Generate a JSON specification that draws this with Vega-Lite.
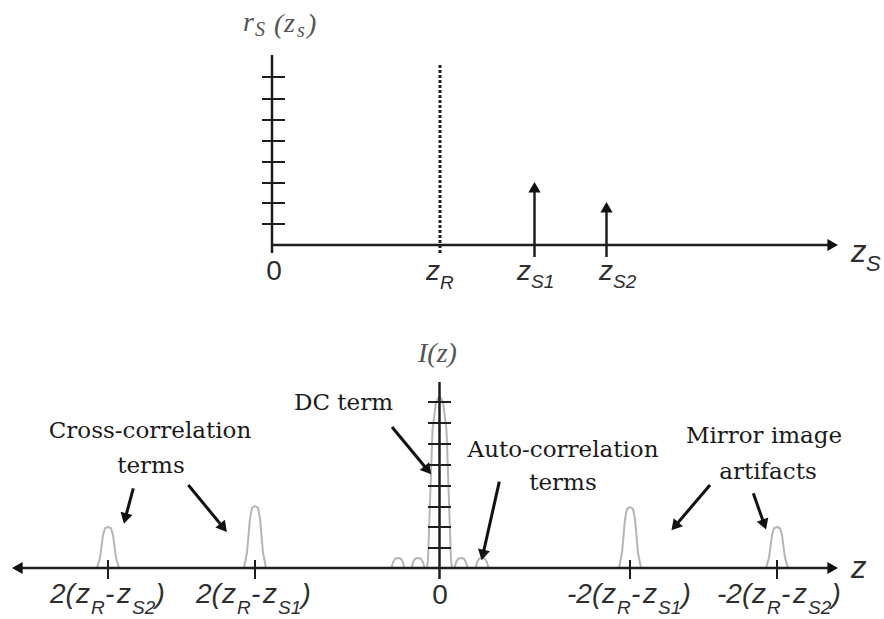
{
  "$schema": "https://vega.github.io/schema/vega-lite/v6.json",
  "width": 884,
  "height": 619,
  "padding": 0,
  "autosize": {"type": "fit", "contains": "padding"},
  "background": "white",
  "config": {"view": {"stroke": null}},
  "datasets": {
    "segments": [
      {"kind": "axis", "x": 272, "y": 245, "x2": 833, "y2": 245},
      {"kind": "axis", "x": 272, "y": 55, "x2": 272, "y2": 253},
      {"kind": "axis", "x": 16, "y": 568, "x2": 833, "y2": 568},
      {"kind": "axis", "x": 439.5, "y": 382, "x2": 439.5, "y2": 579},
      {"kind": "axis", "x": 534.5, "y": 257, "x2": 534.5, "y2": 189},
      {"kind": "axis", "x": 606.5, "y": 257, "x2": 606.5, "y2": 209},
      {"kind": "dash", "x": 440, "y": 65, "x2": 440, "y2": 253},
      {"kind": "tick", "x": 262, "y": 77, "x2": 285, "y2": 77},
      {"kind": "tick", "x": 262, "y": 99, "x2": 285, "y2": 99},
      {"kind": "tick", "x": 262, "y": 120, "x2": 285, "y2": 120},
      {"kind": "tick", "x": 262, "y": 141, "x2": 285, "y2": 141},
      {"kind": "tick", "x": 262, "y": 162, "x2": 285, "y2": 162},
      {"kind": "tick", "x": 262, "y": 183, "x2": 285, "y2": 183},
      {"kind": "tick", "x": 262, "y": 203, "x2": 285, "y2": 203},
      {"kind": "tick", "x": 262, "y": 224, "x2": 285, "y2": 224},
      {"kind": "tick", "x": 428, "y": 402, "x2": 451, "y2": 402},
      {"kind": "tick", "x": 428, "y": 423, "x2": 451, "y2": 423},
      {"kind": "tick", "x": 428, "y": 444, "x2": 451, "y2": 444},
      {"kind": "tick", "x": 428, "y": 465, "x2": 451, "y2": 465},
      {"kind": "tick", "x": 428, "y": 486, "x2": 451, "y2": 486},
      {"kind": "tick", "x": 428, "y": 507, "x2": 451, "y2": 507},
      {"kind": "tick", "x": 428, "y": 527, "x2": 451, "y2": 527},
      {"kind": "tick", "x": 428, "y": 548, "x2": 451, "y2": 548},
      {"kind": "tick", "x": 108, "y": 560, "x2": 108, "y2": 579},
      {"kind": "tick", "x": 255, "y": 560, "x2": 255, "y2": 579},
      {"kind": "tick", "x": 630, "y": 560, "x2": 630, "y2": 579},
      {"kind": "tick", "x": 777, "y": 560, "x2": 777, "y2": 579},
      {"kind": "shaft", "x": 392, "y": 427, "x2": 427.8, "y2": 470.2},
      {"kind": "shaft", "x": 133.3, "y": 488.3, "x2": 125.2, "y2": 518.5},
      {"kind": "shaft", "x": 188.3, "y": 485, "x2": 223.5, "y2": 527.8},
      {"kind": "shaft", "x": 499.3, "y": 481.7, "x2": 482.8, "y2": 555.1},
      {"kind": "shaft", "x": 710, "y": 485, "x2": 674.9, "y2": 526.2},
      {"kind": "shaft", "x": 753.3, "y": 493.3, "x2": 764.3, "y2": 524.6}
    ],
    "heads": [
      {"x": 832.7, "y": 245, "dir": 90},
      {"x": 832.7, "y": 568, "dir": 90},
      {"x": 17.3, "y": 568, "dir": 270},
      {"x": 534.5, "y": 187.3, "dir": 0},
      {"x": 606.5, "y": 207.3, "dir": 0},
      {"x": 427.8, "y": 470.2, "dir": 140.3},
      {"x": 125.2, "y": 518.5, "dir": 194.4},
      {"x": 223.5, "y": 527.8, "dir": 140.6},
      {"x": 482.8, "y": 555.1, "dir": 192.7},
      {"x": 674.9, "y": 526.2, "dir": 220.4},
      {"x": 764.3, "y": 524.6, "dir": 160.6}
    ],
    "peaks": [
      {"peak": "cross2", "i": 0, "x": 97, "y": 568},
      {"peak": "cross2", "i": 1, "x": 100, "y": 557.8},
      {"peak": "cross2", "i": 2, "x": 103, "y": 535.2},
      {"peak": "cross2", "i": 3, "x": 105, "y": 528.2},
      {"peak": "cross2", "i": 4, "x": 108, "y": 527},
      {"peak": "cross2", "i": 5, "x": 111, "y": 528.2},
      {"peak": "cross2", "i": 6, "x": 113, "y": 535.2},
      {"peak": "cross2", "i": 7, "x": 116, "y": 557.8},
      {"peak": "cross2", "i": 8, "x": 119, "y": 568},
      {"peak": "cross1", "i": 0, "x": 244, "y": 568},
      {"peak": "cross1", "i": 1, "x": 247, "y": 552.5},
      {"peak": "cross1", "i": 2, "x": 250, "y": 518.4},
      {"peak": "cross1", "i": 3, "x": 252, "y": 507.9},
      {"peak": "cross1", "i": 4, "x": 255, "y": 506},
      {"peak": "cross1", "i": 5, "x": 258, "y": 507.9},
      {"peak": "cross1", "i": 6, "x": 260, "y": 518.4},
      {"peak": "cross1", "i": 7, "x": 263, "y": 552.5},
      {"peak": "cross1", "i": 8, "x": 266, "y": 568},
      {"peak": "mirror1", "i": 0, "x": 619, "y": 568},
      {"peak": "mirror1", "i": 1, "x": 622, "y": 552.8},
      {"peak": "mirror1", "i": 2, "x": 625, "y": 519.2},
      {"peak": "mirror1", "i": 3, "x": 627, "y": 508.8},
      {"peak": "mirror1", "i": 4, "x": 630, "y": 507},
      {"peak": "mirror1", "i": 5, "x": 633, "y": 508.8},
      {"peak": "mirror1", "i": 6, "x": 635, "y": 519.2},
      {"peak": "mirror1", "i": 7, "x": 638, "y": 552.8},
      {"peak": "mirror1", "i": 8, "x": 641, "y": 568},
      {"peak": "mirror2", "i": 0, "x": 766, "y": 568},
      {"peak": "mirror2", "i": 1, "x": 769, "y": 557.8},
      {"peak": "mirror2", "i": 2, "x": 772, "y": 535.2},
      {"peak": "mirror2", "i": 3, "x": 774, "y": 528.2},
      {"peak": "mirror2", "i": 4, "x": 777, "y": 527},
      {"peak": "mirror2", "i": 5, "x": 780, "y": 528.2},
      {"peak": "mirror2", "i": 6, "x": 782, "y": 535.2},
      {"peak": "mirror2", "i": 7, "x": 785, "y": 557.8},
      {"peak": "mirror2", "i": 8, "x": 788, "y": 568},
      {"peak": "dc", "i": 0, "x": 427, "y": 568},
      {"peak": "dc", "i": 1, "x": 428, "y": 560},
      {"peak": "dc", "i": 2, "x": 432.5, "y": 430},
      {"peak": "dc", "i": 3, "x": 436, "y": 402},
      {"peak": "dc", "i": 4, "x": 439.5, "y": 396},
      {"peak": "dc", "i": 5, "x": 443, "y": 402},
      {"peak": "dc", "i": 6, "x": 446.5, "y": 430},
      {"peak": "dc", "i": 7, "x": 451, "y": 560},
      {"peak": "dc", "i": 8, "x": 452, "y": 568},
      {"peak": "auto1", "i": 0, "x": 391.5, "y": 568},
      {"peak": "auto1", "i": 1, "x": 393, "y": 562.5},
      {"peak": "auto1", "i": 2, "x": 395, "y": 558.8},
      {"peak": "auto1", "i": 3, "x": 398, "y": 558},
      {"peak": "auto1", "i": 4, "x": 401, "y": 558.8},
      {"peak": "auto1", "i": 5, "x": 403, "y": 562.5},
      {"peak": "auto1", "i": 6, "x": 404.5, "y": 568},
      {"peak": "auto2", "i": 0, "x": 411.5, "y": 568},
      {"peak": "auto2", "i": 1, "x": 413, "y": 562.5},
      {"peak": "auto2", "i": 2, "x": 415, "y": 558.8},
      {"peak": "auto2", "i": 3, "x": 418, "y": 558},
      {"peak": "auto2", "i": 4, "x": 421, "y": 558.8},
      {"peak": "auto2", "i": 5, "x": 423, "y": 562.5},
      {"peak": "auto2", "i": 6, "x": 424.5, "y": 568},
      {"peak": "auto3", "i": 0, "x": 454.5, "y": 568},
      {"peak": "auto3", "i": 1, "x": 456, "y": 562.5},
      {"peak": "auto3", "i": 2, "x": 458, "y": 558.8},
      {"peak": "auto3", "i": 3, "x": 461, "y": 558},
      {"peak": "auto3", "i": 4, "x": 464, "y": 558.8},
      {"peak": "auto3", "i": 5, "x": 466, "y": 562.5},
      {"peak": "auto3", "i": 6, "x": 467.5, "y": 568},
      {"peak": "auto4", "i": 0, "x": 475.5, "y": 568},
      {"peak": "auto4", "i": 1, "x": 477, "y": 562.5},
      {"peak": "auto4", "i": 2, "x": 479, "y": 558.8},
      {"peak": "auto4", "i": 3, "x": 482, "y": 558},
      {"peak": "auto4", "i": 4, "x": 485, "y": 558.8},
      {"peak": "auto4", "i": 5, "x": 487, "y": 562.5},
      {"peak": "auto4", "i": 6, "x": 488.5, "y": 568}
    ],
    "texts": [
      {"kind": "note", "x": 343.5, "y": 410, "t": "DC term"},
      {"kind": "note", "x": 150, "y": 438, "t": "Cross-correlation"},
      {"kind": "note", "x": 151, "y": 473, "t": "terms"},
      {"kind": "note", "x": 563, "y": 457, "t": "Auto-correlation"},
      {"kind": "note", "x": 563, "y": 490, "t": "terms"},
      {"kind": "note", "x": 764, "y": 443, "t": "Mirror image"},
      {"kind": "note", "x": 768, "y": 479, "t": "artifacts"},

      {"kind": "zero", "x": 274, "y": 280, "t": "0"},
      {"kind": "zero", "x": 440, "y": 604, "t": "0"},

      {"kind": "lab", "x": 426, "y": 280, "t": "z"},
      {"kind": "sub", "x": 440, "y": 289, "t": "R"},
      {"kind": "lab", "x": 517, "y": 280, "t": "z"},
      {"kind": "sub", "x": 531, "y": 288, "t": "S1"},
      {"kind": "lab", "x": 599, "y": 280, "t": "z"},
      {"kind": "sub", "x": 613, "y": 288, "t": "S2"},

      {"kind": "lab", "x": 50, "y": 603, "t": "2("},
      {"kind": "lab", "x": 76, "y": 603, "t": "z"},
      {"kind": "sub", "x": 91, "y": 614, "t": "R"},
      {"kind": "lab", "x": 105, "y": 603, "t": "-"},
      {"kind": "lab", "x": 117, "y": 603, "t": "z"},
      {"kind": "sub", "x": 132, "y": 614, "t": "S2"},
      {"kind": "lab", "x": 155.5, "y": 603, "t": ")"},

      {"kind": "lab", "x": 196, "y": 603, "t": "2("},
      {"kind": "lab", "x": 222, "y": 603, "t": "z"},
      {"kind": "sub", "x": 237, "y": 614, "t": "R"},
      {"kind": "lab", "x": 251, "y": 603, "t": "-"},
      {"kind": "lab", "x": 263, "y": 603, "t": "z"},
      {"kind": "sub", "x": 278, "y": 614, "t": "S1"},
      {"kind": "lab", "x": 301.5, "y": 603, "t": ")"},

      {"kind": "lab", "x": 567, "y": 603, "t": "-2("},
      {"kind": "lab", "x": 602, "y": 603, "t": "z"},
      {"kind": "sub", "x": 617, "y": 614, "t": "R"},
      {"kind": "lab", "x": 631, "y": 603, "t": "-"},
      {"kind": "lab", "x": 643, "y": 603, "t": "z"},
      {"kind": "sub", "x": 658, "y": 614, "t": "S1"},
      {"kind": "lab", "x": 681.5, "y": 603, "t": ")"},

      {"kind": "lab", "x": 717, "y": 603, "t": "-2("},
      {"kind": "lab", "x": 752, "y": 603, "t": "z"},
      {"kind": "sub", "x": 767, "y": 614, "t": "R"},
      {"kind": "lab", "x": 781, "y": 603, "t": "-"},
      {"kind": "lab", "x": 793, "y": 603, "t": "z"},
      {"kind": "sub", "x": 808, "y": 614, "t": "S2"},
      {"kind": "lab", "x": 831.5, "y": 603, "t": ")"},

      {"kind": "big", "x": 851, "y": 262, "t": "z"},
      {"kind": "bigsub", "x": 866, "y": 271, "t": "S"},
      {"kind": "big", "x": 851, "y": 578, "t": "z"},

      {"kind": "math", "x": 243, "y": 31, "t": "r"},
      {"kind": "mathsub", "x": 255, "y": 36, "t": "S"},
      {"kind": "math", "x": 274, "y": 33, "t": "("},
      {"kind": "math", "x": 284, "y": 32, "t": "z"},
      {"kind": "mathsub", "x": 297, "y": 37, "t": "s"},
      {"kind": "math", "x": 307, "y": 33, "t": ")"},
      {"kind": "math", "x": 418, "y": 362, "t": "I(z)"}
    ]
  },
  "encoding": {
    "x": {"field": "x", "type": "quantitative", "axis": null,
          "scale": {"domain": [0, 884], "nice": false, "zero": false}},
    "y": {"field": "y", "type": "quantitative", "axis": null,
          "scale": {"domain": [0, 619], "reverse": true, "nice": false, "zero": false}}
  },
  "layer": [
    {
      "data": {"name": "peaks"},
      "mark": {"type": "line", "color": "#b5b5b5", "strokeWidth": 2, "strokeJoin": "round"},
      "encoding": {"detail": {"field": "peak"}, "order": {"field": "i", "type": "quantitative"}}
    },
    {
      "data": {"name": "segments"},
      "transform": [{"filter": "datum.kind === 'dash'"}],
      "mark": {"type": "rule", "color": "#1e1e1e", "strokeWidth": 3, "strokeDash": [3, 2]},
      "encoding": {"x2": {"field": "x2"}, "y2": {"field": "y2"}}
    },
    {
      "data": {"name": "segments"},
      "transform": [{"filter": "datum.kind === 'axis'"}],
      "mark": {"type": "rule", "color": "#1e1e1e", "strokeWidth": 2.5},
      "encoding": {"x2": {"field": "x2"}, "y2": {"field": "y2"}}
    },
    {
      "data": {"name": "segments"},
      "transform": [{"filter": "datum.kind === 'tick'"}],
      "mark": {"type": "rule", "color": "#1e1e1e", "strokeWidth": 2},
      "encoding": {"x2": {"field": "x2"}, "y2": {"field": "y2"}}
    },
    {
      "data": {"name": "segments"},
      "transform": [{"filter": "datum.kind === 'shaft'"}],
      "mark": {"type": "rule", "color": "#111111", "strokeWidth": 3},
      "encoding": {"x2": {"field": "x2"}, "y2": {"field": "y2"}}
    },
    {
      "data": {"name": "heads"},
      "mark": {"type": "point", "shape": "triangle-up", "filled": true, "opacity": 1,
               "color": "#111111", "size": 150, "strokeWidth": 0},
      "encoding": {"angle": {"field": "dir", "type": "quantitative", "scale": null}}
    },
    {
      "data": {"name": "texts"},
      "transform": [{"filter": "datum.kind === 'note'"}],
      "mark": {"type": "text", "font": "DejaVu Serif", "fontSize": 23, "align": "center",
               "baseline": "alphabetic", "color": "#1a1a1a"},
      "encoding": {"text": {"field": "t"}}
    },
    {
      "data": {"name": "texts"},
      "transform": [{"filter": "datum.kind === 'zero'"}],
      "mark": {"type": "text", "font": "Liberation Sans", "fontSize": 28, "align": "center",
               "baseline": "alphabetic", "color": "#2e2e2e"},
      "encoding": {"text": {"field": "t"}}
    },
    {
      "data": {"name": "texts"},
      "transform": [{"filter": "datum.kind === 'lab'"}],
      "mark": {"type": "text", "font": "Liberation Sans", "fontSize": 28, "fontStyle": "italic",
               "align": "left", "baseline": "alphabetic", "color": "#2e2e2e"},
      "encoding": {"text": {"field": "t"}}
    },
    {
      "data": {"name": "texts"},
      "transform": [{"filter": "datum.kind === 'sub'"}],
      "mark": {"type": "text", "font": "Liberation Sans", "fontSize": 19, "fontStyle": "italic",
               "align": "left", "baseline": "alphabetic", "color": "#2e2e2e"},
      "encoding": {"text": {"field": "t"}}
    },
    {
      "data": {"name": "texts"},
      "transform": [{"filter": "datum.kind === 'big'"}],
      "mark": {"type": "text", "font": "Liberation Sans", "fontSize": 31, "fontStyle": "italic",
               "align": "left", "baseline": "alphabetic", "color": "#2e2e2e"},
      "encoding": {"text": {"field": "t"}}
    },
    {
      "data": {"name": "texts"},
      "transform": [{"filter": "datum.kind === 'bigsub'"}],
      "mark": {"type": "text", "font": "Liberation Sans", "fontSize": 22, "fontStyle": "italic",
               "align": "left", "baseline": "alphabetic", "color": "#2e2e2e"},
      "encoding": {"text": {"field": "t"}}
    },
    {
      "data": {"name": "texts"},
      "transform": [{"filter": "datum.kind === 'math'"}],
      "mark": {"type": "text", "font": "Liberation Serif", "fontSize": 28, "fontStyle": "italic",
               "align": "left", "baseline": "alphabetic", "color": "#555555"},
      "encoding": {"text": {"field": "t"}}
    },
    {
      "data": {"name": "texts"},
      "transform": [{"filter": "datum.kind === 'mathsub'"}],
      "mark": {"type": "text", "font": "Liberation Serif", "fontSize": 20, "fontStyle": "italic",
               "align": "left", "baseline": "alphabetic", "color": "#555555"},
      "encoding": {"text": {"field": "t"}}
    }
  ]
}
